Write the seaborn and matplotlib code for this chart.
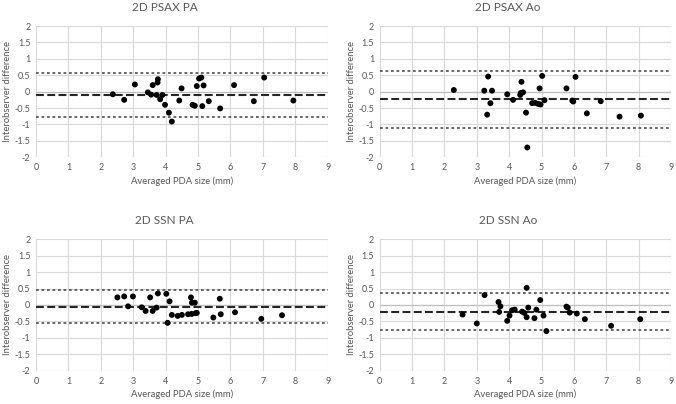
import numpy as np
import pandas as pd
import matplotlib
matplotlib.use("Agg")
import matplotlib.pyplot as plt
import seaborn as sns

titles = ["2D PSAX PA", "2D PSAX Ao", "2D SSN PA", "2D SSN Ao"]

psax_pa_x = [2.37, 2.72, 3.05, 3.45, 3.55, 3.60, 3.72, 3.75, 3.76, 3.83, 3.90, 3.98, 4.10, 4.19,
             4.42, 4.49, 4.83, 4.90, 4.96, 5.03, 5.10, 5.13, 5.17, 5.33, 5.68, 6.11, 6.72, 7.04, 7.94]
psax_pa_y = [-0.08, -0.25, 0.22, -0.02, -0.09, 0.20, -0.10, 0.28, 0.38, -0.23, -0.10, -0.40, -0.64, -0.91,
             -0.27, 0.10, -0.40, -0.43, 0.17, 0.40, 0.43, -0.44, 0.19, -0.29, -0.51, 0.20, -0.29, 0.43, -0.27]

psax_ao_x = [2.29, 3.23, 3.35, 3.32, 3.42, 3.47, 3.94, 4.12, 4.34, 4.36, 4.38, 4.43, 4.52, 4.56, 4.71,
             4.80, 4.89, 4.94, 4.97, 5.02, 5.09, 5.77, 5.95, 5.98, 6.05, 6.40, 6.83, 7.41, 8.07]
psax_ao_y = [0.05, 0.03, 0.46, -0.70, -0.35, 0.03, -0.08, -0.25, -0.10, -0.04, 0.30, -0.02, -0.64, -1.70, -0.35,
             -0.34, -0.37, 0.10, -0.39, 0.48, -0.26, 0.10, -0.27, -0.30, 0.45, -0.66, -0.29, -0.76, -0.73]

ssn_pa_x = [2.51, 2.72, 2.84, 2.99, 3.26, 3.38, 3.52, 3.60, 3.72, 3.76, 4.02, 4.06, 4.12, 4.19, 4.37,
            4.50, 4.69, 4.78, 4.80, 4.81, 4.90, 4.92, 4.96, 5.47, 5.67, 5.70, 6.14, 6.95, 7.59]
ssn_pa_y = [0.23, 0.26, -0.04, 0.26, -0.07, -0.18, 0.23, -0.18, -0.08, 0.35, 0.34, -0.54, 0.11, -0.30, -0.33,
            -0.30, -0.28, 0.23, -0.27, 0.07, 0.07, -0.25, -0.24, -0.38, 0.19, -0.28, -0.22, -0.42, -0.31]

ssn_ao_x = [2.56, 3.00, 3.24, 3.67, 3.69, 3.73, 3.94, 4.01, 4.09, 4.17, 4.40, 4.47, 4.54, 4.54, 4.59,
            4.78, 4.84, 4.96, 5.06, 5.15, 5.77, 5.81, 5.87, 6.09, 6.34, 7.15, 8.05]
ssn_ao_y = [-0.29, -0.56, 0.30, 0.09, -0.21, -0.04, -0.48, -0.32, -0.16, -0.14, -0.20, -0.24, 0.52, -0.37, -0.08,
            -0.40, -0.14, 0.15, -0.32, -0.79, -0.05, -0.08, -0.23, -0.26, -0.43, -0.63, -0.43]

mean_bias = [-0.09, -0.23, -0.06, -0.21]
upper_loa = [0.58, 0.64, 0.45, 0.35]
lower_loa = [-0.77, -1.10, -0.56, -0.76]

x_ticks = [0, 1, 2, 3, 4, 5, 6, 7, 8, 9]
y_ticks = [-2, -1.5, -1, -0.5, 0, 0.5, 1, 1.5, 2]
y_tick_labels = ["-2", "-1.5", "-1", "-0.5", "0", "0.5", "1", "1.5", "2"]
x_label = "Averaged PDA size (mm)"
y_label = "Interobserver difference"

xs = [psax_pa_x, psax_ao_x, ssn_pa_x, ssn_ao_x]
ys = [psax_pa_y, psax_ao_y, ssn_pa_y, ssn_ao_y]

sns.set_theme(style="white")
plt.rcParams['font.family'] = ['Lato', 'DejaVu Sans']

fig = plt.figure(figsize=(6.76, 4.04), dpi=100)
positions = [
    [0.0533, 0.6106, 0.4315, 0.3250],
    [0.5617, 0.6106, 0.4309, 0.3250],
    [0.0533, 0.0817, 0.4315, 0.3267],
    [0.5617, 0.0817, 0.4309, 0.3267],
]
text_col = "#595959"
grid_col = "#d9d9d9"

for i in range(4):
    ax = fig.add_axes(positions[i])
    df = pd.DataFrame({"x": xs[i], "y": ys[i]})
    ax.set_xlim(0, 9)
    ax.set_ylim(-2, 2)
    ax.set_xticks(x_ticks)
    ax.set_yticks(y_ticks)
    ax.set_yticklabels(y_tick_labels)
    ax.grid(True, color=grid_col, linewidth=0.8)
    ax.set_axisbelow(True)
    for s in ax.spines.values():
        s.set_visible(False)
    ax.axhline(0, color="#bfbfbf", linewidth=0.9, zorder=1)
    ax.axhline(upper_loa[i], color="#404040", linewidth=1.1, linestyle=(0, (1.8, 1.8)), zorder=2)
    ax.axhline(lower_loa[i], color="#404040", linewidth=1.1, linestyle=(0, (1.8, 1.8)), zorder=2)
    ax.axhline(mean_bias[i], color="#262626", linewidth=1.5, linestyle=(0, (3.8, 1.6)), zorder=2)
    sns.scatterplot(data=df, x="x", y="y", ax=ax, color="black", s=18, edgecolor="none",
                    zorder=3, legend=False)
    ax.tick_params(axis="both", length=0, pad=4, labelsize=6.5, labelcolor=text_col)
    ax.set_xlabel(x_label, fontsize=6.8, color=text_col, labelpad=3)
    ax.set_ylabel(y_label, fontsize=6.8, color=text_col, labelpad=2)
    ax.set_title(titles[i], fontsize=8.5, color=text_col, pad=11, x=0.44)

fig.savefig("out.png", dpi=100)
